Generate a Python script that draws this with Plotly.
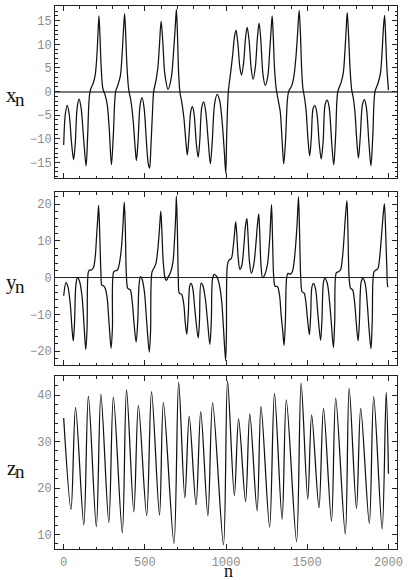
import plotly.graph_objects as go
from plotly.subplots import make_subplots

# ---- data: (n, value) key points ----
x_points = [(0,-11.3),(10,-4.8),(22,-2.9),(34,-4.8),(49,-11.1),(61,-14.4),(71,-11.1),(83,-3.4),(95,-1.6),(107,-3.4),
            (124,-10.5),(138,-15.7),(148,-9.0),(162,0),(183,1.9),(195,3.7),(205,7.9),(211,12.1),(217,16.0),(223,12.1),
            (231,5.1),(241,0.7),(254,-0.6),(268,-2.7),(280,-7.6),(294,-15.5),(306,-9.0),(320,0),(335,1.5),(349,3.3),
            (361,8.6),(369,13.5),(375,16.5),(381,12.8),(389,5.8),(400,0.5),(414,-2.0),(428,-6.2),(440,-11.8),(448,-14.6),
            (458,-10.4),(471,-2.7),(483,-1.3),(495,-3.4),(509,-10.4),(521,-15.3),(529,-16.2),(537,-11.8),(548,-3.4),(554,0),
            (568,2.3),(580,5.1),(590,10.0),(600,14.9),(610,10.7),(623,3.7),(643,0.5),(663,3.0),(677,8.6),(688,14.2),
            (694,17.4),(700,12.8),(708,3.7),(716,-0.2),(726,-2.0),(740,-5.5),(752,-10.4),(761,-13.4),(771,-9.7),(783,-4.1),
            (793,-3.2),(803,-4.8),(817,-11.1),(828,-13.9),(838,-10.4),(850,-3.4),(862,-2.2),(874,-4.1),(890,-10.4),(903,-15.3),
            (915,-10.4),(929,-2.7),(945,-0.6),(961,-2.0),(977,-6.9),(990,-13.2),(998,-17.3),(1004,-9.0),(1014,0),(1028,4.0),
            (1041,7.9),(1051,11.4),(1061,13.0),(1073,10.0),(1085,5.1),(1095,3.5),(1107,5.8),(1120,11.4),(1130,13.6),(1142,10.7),
            (1154,5.1),(1166,2.6),(1180,5.1),(1193,11.4),(1203,14.5),(1213,11.4),(1227,3.7),(1241,1.3),(1256,3.0),(1270,9.3),
            (1278,13.5),(1284,16.0),(1290,12.1),(1298,5.1),(1308,0.8),(1318,-1.3),(1333,-4.1),(1345,-10.4),(1355,-15.3),(1366,-10.4),
            (1377,-2.0),(1385,0),(1404,1.2),(1418,3.3),(1430,7.2),(1440,12.1),(1450,17.2),(1458,12.1),(1465,5.1),(1473,0.7),
            (1483,-1.3),(1493,-4.1),(1505,-10.4),(1515,-13.6),(1525,-9.7),(1537,-3.4),(1548,-3.0),(1560,-4.8),(1574,-11.1),(1586,-14.3),
            (1598,-10.4),(1610,-2.7),(1623,-1.8),(1635,-3.4),(1651,-11.1),(1663,-15.5),(1675,-9.0),(1688,0),(1708,1.9),(1722,4.0),
            (1732,8.6),(1740,13.5),(1746,16.7),(1754,12.1),(1763,5.1),(1773,0.5),(1783,-1.3),(1793,-4.1),(1805,-10.4),(1815,-14.1),
            (1826,-9.7),(1840,-2.7),(1852,-1.7),(1864,-3.4),(1880,-11.1),(1892,-15.7),(1904,-9.0),(1917,0),(1937,1.9),(1951,4.0),
            (1961,8.6),(1969,13.5),(1976,16.1),(1982,12.1),(1990,5.1),(2000,0.3)]

y_points = [(0,-4.9),(14,-1.3),(26,-2.4),(41,-7.4),(51,-13.7),(59,-17.2),(67,-11.9),(75,-2.0),(85,0.0),(97,-0.9),
            (112,-4.7),(124,-11.9),(136,-19.5),(144,-13.7),(152,1.6),(160,2.1),(172,2.1),(185,3.0),(195,6.1),(203,11.6),
            (211,17.0),(215,19.7),(221,13.4),(229,1.6),(235,-2.0),(245,-2.2),(256,-2.9),(268,-5.6),(280,-12.8),(292,-19.2),
            (300,-13.7),(308,1.6),(320,1.9),(331,2.1),(343,3.9),(355,7.9),(365,14.3),(373,20.6),(379,14.3),(387,-0.2),
            (395,-2.9),(410,-3.3),(422,-6.5),(434,-12.8),(446,-17.5),(456,-11.9),(464,-2.0),(473,0.3),(483,-0.4),(497,-3.8),
            (511,-11.9),(527,-20.2),(535,-14.6),(544,1.6),(558,2.8),(568,3.9),(580,7.9),(590,13.4),(598,18.1),(604,13.4),
            (613,4.3),(625,-0.2),(633,-0.7),(645,0.3),(659,1.6),(673,4.3),(683,10.7),(690,17.0),(694,22.2),(700,13.4),
            (706,-0.2),(712,-4.2),(726,-4.5),(740,-7.4),(748,-11.9),(758,-15.4),(767,-10.1),(777,-2.0),(785,-1.5),(795,-2.9),
            (809,-9.2),(828,-16.4),(836,-11.9),(846,-1.5),(856,-2.0),(872,-5.6),(886,-11.9),(900,-18.1),(909,-11.9),(917,-0.2),
            (927,0.9),(943,0.3),(959,-2.0),(973,-6.5),(984,-13.7),(997,-22.5),(1002,-15.5),(1008,3.4),(1018,4.8),(1032,5.2),
            (1045,8.9),(1053,12.5),(1059,15.2),(1065,12.5),(1075,5.2),(1085,2.3),(1097,3.4),(1110,8.9),(1120,14.3),(1128,16.1),
            (1134,12.5),(1144,4.3),(1156,1.2),(1170,3.4),(1183,8.9),(1193,14.3),(1201,17.4),(1207,12.5),(1215,3.4),(1225,0.0),
            (1239,0.9),(1254,3.4),(1266,8.9),(1274,15.2),(1280,19.9),(1286,10.7),(1294,-0.2),(1302,-2.3),(1316,-2.4),(1329,-4.7),
            (1339,-10.1),(1349,-14.6),(1357,-18.4),(1365,-11.9),(1373,0.0),(1381,1.2),(1395,0.9),(1408,1.6),(1420,4.8),(1430,9.8),
            (1438,15.2),(1446,22.0),(1452,13.4),(1460,-0.2),(1468,-3.8),(1481,-4.2),(1491,-6.5),(1501,-11.0),(1513,-15.5),(1521,-10.1),
            (1529,-2.4),(1539,-1.5),(1552,-3.3),(1564,-9.2),(1582,-17.0),(1590,-11.9),(1600,-1.1),(1608,-0.2),(1623,-1.5),(1637,-6.5),
            (1649,-12.8),(1661,-19.0),(1669,-11.9),(1679,1.4),(1690,1.6),(1704,2.1),(1716,5.2),(1726,10.7),(1734,16.1),(1744,21.0),
            (1750,13.4),(1758,-0.2),(1767,-2.9),(1779,-3.3),(1791,-6.5),(1801,-11.9),(1813,-17.2),(1821,-11.9),(1832,-1.1),(1842,-0.2),
            (1856,-1.5),(1870,-7.4),(1880,-13.7),(1892,-19.3),(1900,-11.9),(1911,1.6),(1923,2.1),(1935,2.5),(1947,6.1),(1959,12.5),
            (1969,17.9),(1975,20.1),(1982,13.4),(1990,2.5),(1996,-2.4),(2000,-2.4)]

z_points = [(0,35.1),(45,15.4),(73,37.4),(124,12.1),(152,39.8),(201,11.7),(229,40.2),(278,12.6),(306,39.6),(361,10.4),
            (387,41.2),(432,14.9),(460,37.8),(511,14.1),(541,40.8),(590,14.2),(614,38.4),(679,8.1),(708,42.8),(746,17.9),
            (773,35.5),(815,16.4),(844,36.5),(888,14.1),(917,38.4),(984,7.8),(1009,43.1),(1051,18.4),(1077,34.9),(1120,17.1),
            (1146,36.0),(1191,15.1),(1215,37.6),(1268,11.6),(1298,40.4),(1345,13.3),(1371,39.0),(1434,8.5),(1462,42.6),(1503,17.6),
            (1527,35.8),(1572,15.8),(1600,37.2),(1649,12.9),(1675,39.4),(1734,10.1),(1758,41.5),(1803,15.6),(1829,37.2),(1882,12.4),
            (1909,39.7),(1961,11.2),(1986,40.6),(2000,23.1)]

x_tickvals = [0, 500, 1000, 1500, 2000]
panel_labels = ["x", "y", "z"]
y_ranges = [(-18.3, 18.1), (-23.8, 23.2), (6.9, 44.1)]
y_dticks = [5, 10, 10]
y_minor = [1, 2, 2]

# ---- layout geometry (pixels) ----
Wf, Hf = 408, 580
L, R, T, B = 54.5, 400.5, 4.7, 549.3
W, H = R - L, B - T
panel_px = [(4.7, 177.3), (191.7, 365.0), (376.0, 549.3)]
domains = [[(B - b) / H, (B - t) / H] for t, b in panel_px]

fig = make_subplots(rows=3, cols=1)
series = [x_points, y_points, z_points]
for i, pts in enumerate(series):
    n, v = zip(*pts)
    fig.add_trace(go.Scatter(x=list(n), y=list(v), mode="lines",
                             line=dict(color="#111", width=1.25, shape="spline", smoothing=0.9),
                             showlegend=False, hoverinfo="skip"), row=i + 1, col=1)

tickfont = dict(family="Liberation Mono, Courier New, monospace", size=12, color="#8c8c8c")
for i in range(3):
    xa = "xaxis" if i == 0 else f"xaxis{i+1}"
    ya = "yaxis" if i == 0 else f"yaxis{i+1}"
    fig.layout[xa].update(domain=[0, 1], range=[-53.5, 2052.5], tickvals=x_tickvals,
                          showticklabels=(i == 2), ticks="inside", ticklen=5, tickwidth=1, tickcolor="#222",
                          ticklabelstandoff=2,
                          minor=dict(dtick=100, tick0=0, ticks="inside", ticklen=2.5, tickcolor="#222", showgrid=False),
                          showline=True, linecolor="#222", linewidth=1, mirror="allticks",
                          showgrid=False, zeroline=False, tickfont=tickfont)
    zl = dict(zeroline=(i < 2), zerolinecolor=("#7a7a7a" if i == 0 else "#222"),
              zerolinewidth=(2 if i == 0 else 1.3))
    fig.layout[ya].update(domain=domains[i], range=list(y_ranges[i]), dtick=y_dticks[i], tick0=0,
                          ticks="inside", ticklen=5, tickwidth=1, tickcolor="#222",
                          minor=dict(dtick=y_minor[i], tick0=0, ticks="inside", ticklen=2.5, tickcolor="#222", showgrid=False),
                          showline=True, linecolor="#222", linewidth=1, mirror="allticks",
                          showgrid=False, tickfont=tickfont, **zl)

def px2paper(px, py):
    return (px - L) / W, (B - py) / H

serif = "Liberation Serif, Times New Roman, serif"
label_y = [94, 282, 468]
annotations = []
for i, lab in enumerate(panel_labels):
    xp, yp = px2paper(10, label_y[i])
    annotations.append(dict(text=lab, x=xp, y=yp, xref="paper", yref="paper", showarrow=False,
                            xanchor="center", yanchor="middle", font=dict(family=serif, size=21, color="#111")))
    xp, yp = px2paper(19.5, label_y[i] + 4)
    annotations.append(dict(text="n", x=xp, y=yp, xref="paper", yref="paper", showarrow=False,
                            xanchor="center", yanchor="middle", font=dict(family=serif, size=19, color="#111")))
xp, yp = px2paper(230, 582)
annotations.append(dict(text="n", x=xp, y=yp, xref="paper", yref="paper", showarrow=False, borderpad=0,
                        xanchor="center", yanchor="bottom", font=dict(family=serif, size=18, color="#111")))

fig.update_layout(width=Wf, height=Hf, margin=dict(l=L, r=Wf - R, t=T, b=Hf - B),
                  paper_bgcolor="white", plot_bgcolor="white", annotations=annotations)

fig.write_html("out.html")
